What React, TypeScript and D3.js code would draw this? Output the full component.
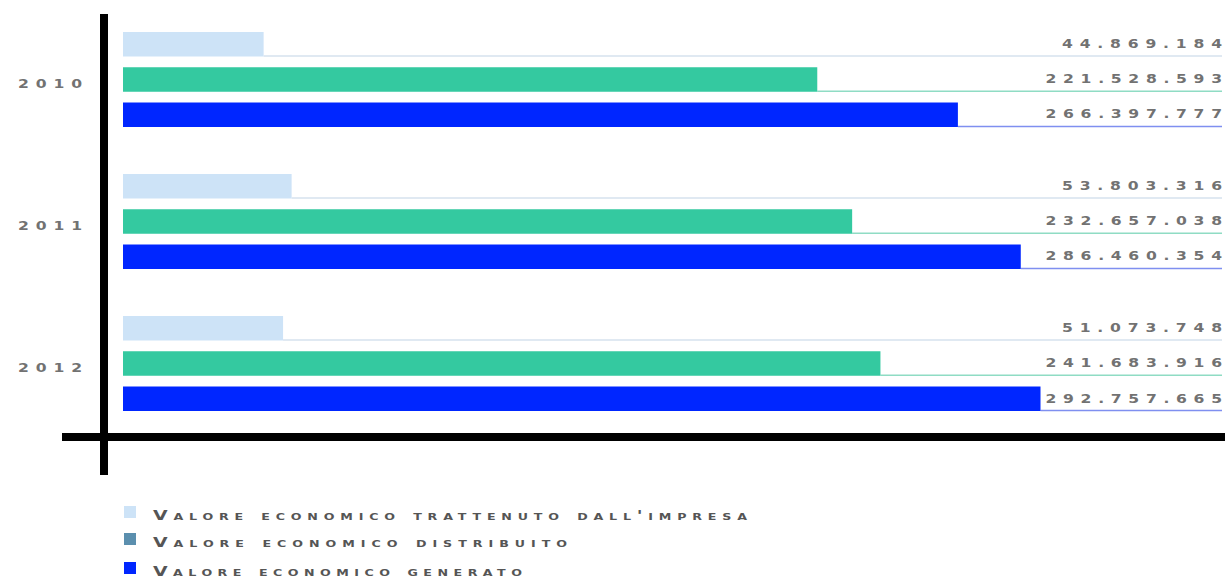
import React from "react";
import * as d3 from "d3";

const years = ["2010", "2011", "2012"];
const series = ["trattenuto", "distribuito", "generato"];
const trattenuto = [44869184, 53803316, 51073748];
const distribuito = [221528593, 232657038, 241683916];
const generato = [266397777, 286460354, 292757665];
const valueLabels = [
  ["44.869.184", "221.528.593", "266.397.777"],
  ["53.803.316", "232.657.038", "286.460.354"],
  ["51.073.748", "241.683.916", "292.757.665"],
];
const barColors = ["#cde3f7", "#34c9a0", "#0026ff"];
const lineColors = ["#d6e2ee", "#8fdcc4", "#7f8ff0"];
const legendColors = ["#cde3f7", "#5b8fae", "#0026ff"];
const legendLabels = [
  "Valore economico trattenuto dall'impresa",
  "Valore economico distribuito",
  "Valore economico generato",
];

const W = 1225;
const H = 582;

function WideText(props: {
  x: number;
  y: number;
  text: string;
  width: number;
  anchor: "start" | "end";
  sx: number;
  fontSize: number;
  fill: string;
  smallCaps?: boolean;
}) {
  const { x, y, text, width, anchor, sx, fontSize, fill, smallCaps } = props;
  return (
    <g transform={`translate(${x},${y}) scale(${sx},1)`}>
      <text
        x={0}
        y={0}
        textAnchor={anchor}
        fontFamily="'DejaVu Sans', sans-serif"
        fontWeight="bold"
        fontSize={fontSize}
        fontVariant={smallCaps ? "small-caps" : undefined}
        textLength={width / sx}
        lengthAdjust="spacing"
        fill={fill}
      >
        {text}
      </text>
    </g>
  );
}

export default function App() {
  const values = [trattenuto, distribuito, generato];
  const x = d3.scaleLinear().domain([0, 300e6]).range([123, 123 + 940.2]);
  const yYear = d3.scaleBand<string>().domain(years).range([32, 411]).paddingInner(0.331).paddingOuter(0);
  const ySeries = d3.scaleBand<string>().domain(series).range([0, yYear.bandwidth()]).paddingInner(0.305).paddingOuter(0);
  const bh = ySeries.bandwidth();
  const pitch = 16.5;
  const fs = 13;
  const sx = 1.2;
  const rightEdge = 1222;
  const numColor = "#727272";

  return (
    <svg width={W} height={H} style={{ position: "absolute", left: 0, top: 0, background: "#fff" }}>
      {years.map((yr, i) => {
        const gy = yYear(yr)!;
        return (
          <g key={yr}>
            {series.map((s, j) => {
              const v = values[j][i];
              const y0 = gy + ySeries(s)!;
              const lbl = valueLabels[i][j];
              return (
                <g key={s}>
                  <line x1={x(v)} x2={rightEdge} y1={y0 + bh - 0.5} y2={y0 + bh - 0.5} stroke={lineColors[j]} strokeWidth={1.5} />
                  <rect x={x(0)} y={y0} width={x(v) - x(0)} height={bh} fill={barColors[j]} />
                  <WideText
                    x={rightEdge}
                    y={y0 + bh - 8.5}
                    text={lbl}
                    width={lbl.length * pitch - 5}
                    anchor="end"
                    sx={sx}
                    fontSize={fs}
                    fill={numColor}
                  />
                </g>
              );
            })}
            <WideText
              x={82}
              y={gy + ySeries("distribuito")! + bh / 2 + 8.5}
              text={yr}
              width={4 * 17.5 - 6}
              anchor="end"
              sx={sx}
              fontSize={fs}
              fill={numColor}
            />
          </g>
        );
      })}
      {/* axes */}
      <line x1={104} x2={104} y1={14} y2={475} stroke="#000" strokeWidth={8} />
      <line x1={62} x2={W} y1={437} y2={437} stroke="#000" strokeWidth={8} />
      {/* legend */}
      {legendLabels.map((l, k) => {
        const ty = [520, 547, 576][k];
        return (
          <g key={l}>
            <rect x={124} y={ty - 14} width={12} height={12} fill={legendColors[k]} />
            <WideText
              x={153}
              y={ty}
              text={l}
              width={l.length * 15 - 6}
              anchor="start"
              sx={1.4}
              fontSize={13.5}
              fill="#555"
              smallCaps
            />
          </g>
        );
      })}
    </svg>
  );
}
